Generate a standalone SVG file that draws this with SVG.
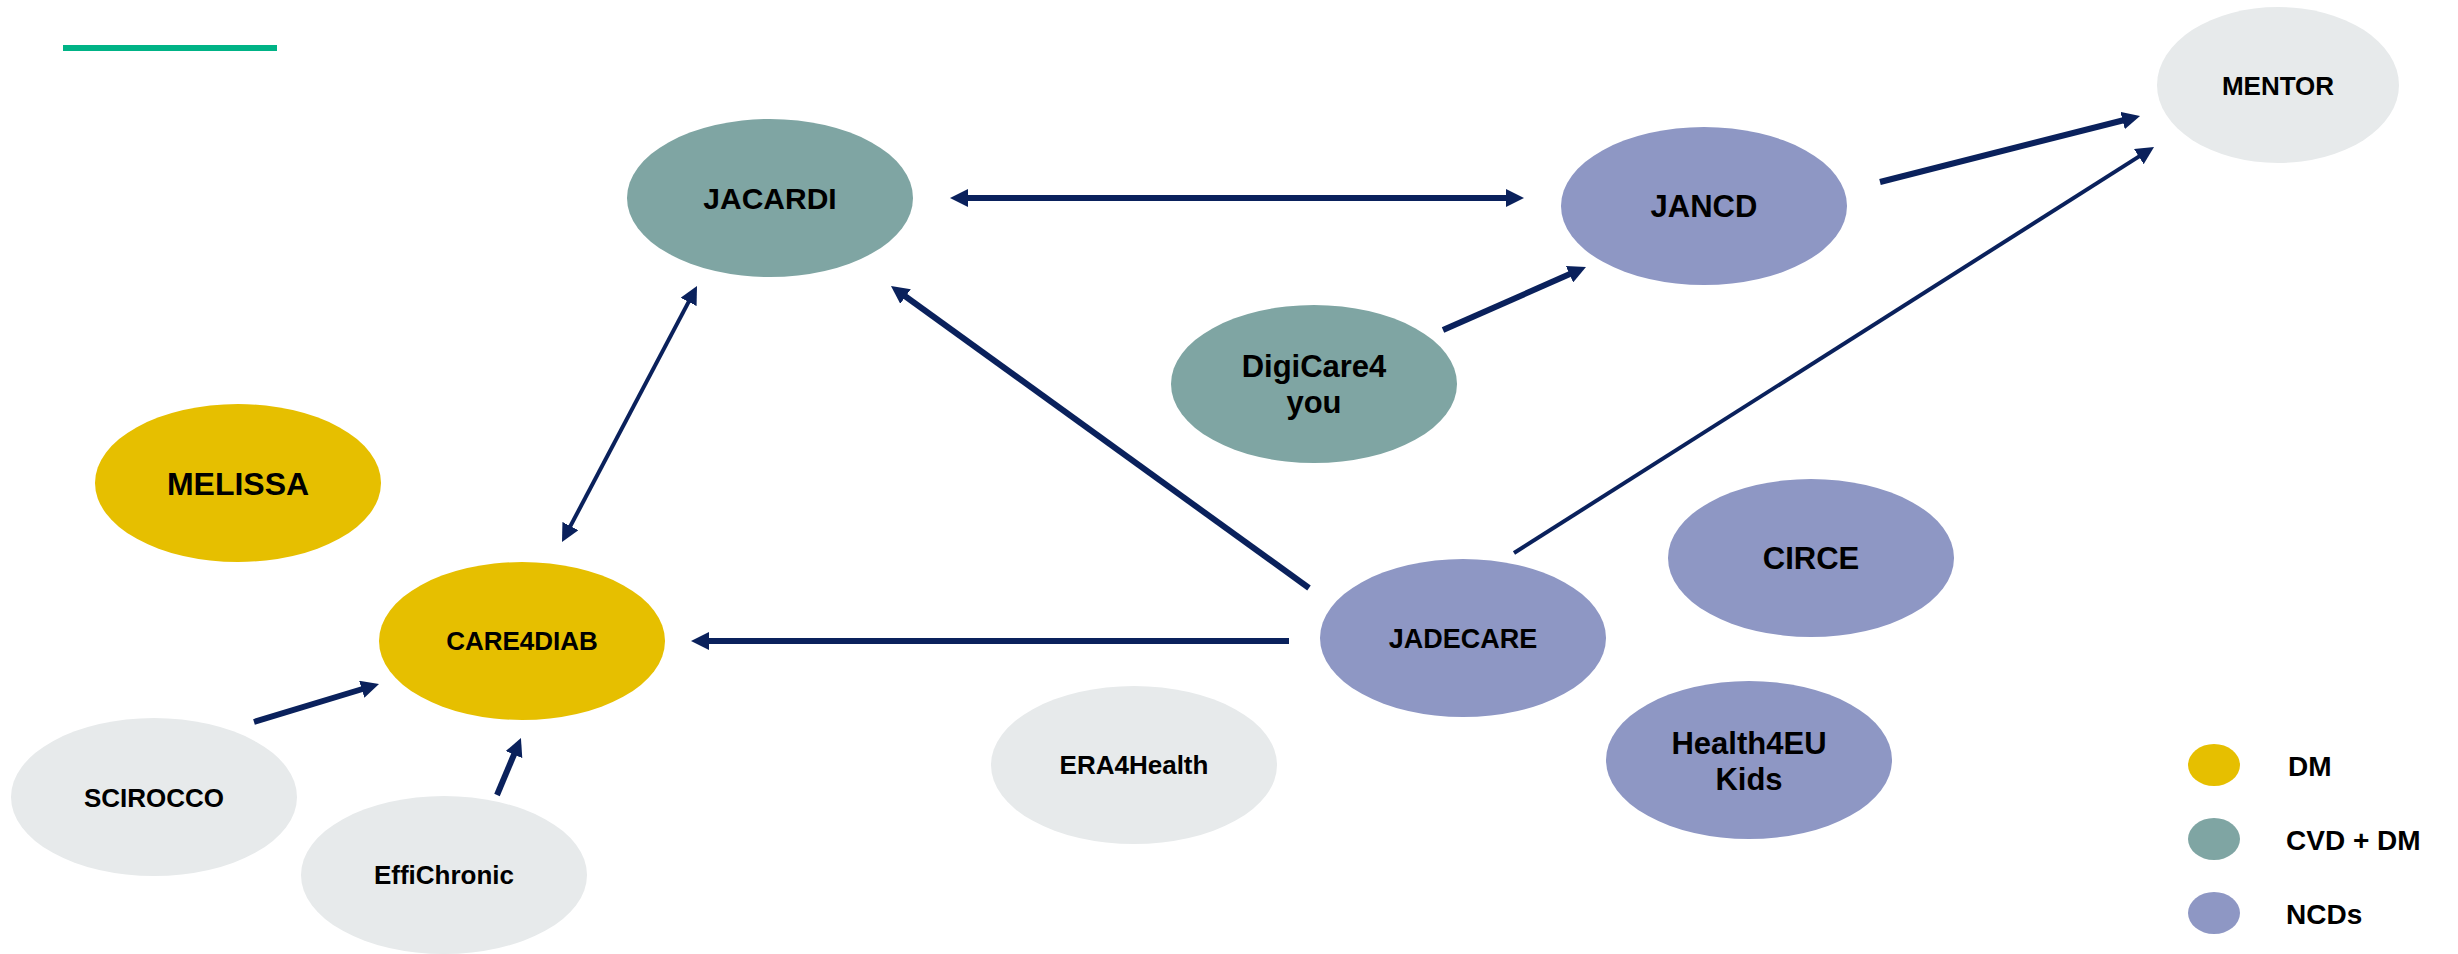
<svg xmlns="http://www.w3.org/2000/svg" width="2458" height="954" viewBox="0 0 2458 954">
<style>
.lbl{font-family:"Liberation Sans",Arial,sans-serif;font-weight:bold;fill:#000;text-anchor:middle}
.dm{fill:#e6bf00}.cvd{fill:#7fa5a3}.ncd{fill:#8e97c4}.oth{fill:#e7eaeb}
.con{stroke:#0a215c;fill:none}
.thick{stroke-width:6}.thin{stroke-width:4}
.leg{font-family:"Liberation Sans",Arial,sans-serif;font-weight:bold;fill:#000;font-size:28px}
</style>
<defs>
<marker id="ah" viewBox="0 0 18 18" refX="6" refY="9" markerWidth="18" markerHeight="18" markerUnits="userSpaceOnUse" orient="auto-start-reverse">
<path d="M0,0 L18,9 L0,18 z" fill="#0a215c"/>
</marker>
</defs>
<rect width="2458" height="954" fill="#fff"/>
<rect id="accent" x="63" y="45" width="214" height="6" fill="#00b386"/>

<g id="connectors">
<line class="con thick" x1="962" y1="198" x2="1512" y2="198" marker-start="url(#ah)" marker-end="url(#ah)"/>
<line class="con thick" x1="1880" y1="182" x2="2128.4" y2="119" marker-end="url(#ah)"/>
<line class="con thin" x1="1514" y1="553" x2="2143.9" y2="153.4" marker-end="url(#ah)"/>
<line class="con thick" x1="1443" y1="330" x2="1575" y2="271.8" marker-end="url(#ah)"/>
<line class="con thick" x1="1309" y1="588" x2="900.7" y2="293" marker-end="url(#ah)"/>
<line class="con thin" x1="691.4" y1="296.6" x2="567.6" y2="531.4" marker-start="url(#ah)" marker-end="url(#ah)"/>
<line class="con thick" x1="1289" y1="641" x2="703" y2="641" marker-end="url(#ah)"/>
<line class="con thick" x1="254" y1="722" x2="367.5" y2="687.5" marker-end="url(#ah)"/>
<line class="con thick" x1="497" y1="795" x2="516.3" y2="749.1" marker-end="url(#ah)"/>
</g>

<g id="MENTOR"><ellipse class="oth" cx="2278" cy="85" rx="121" ry="78"/><text class="lbl" x="2278" y="95" font-size="26">MENTOR</text></g>
<g id="JACARDI"><ellipse class="cvd" cx="770" cy="198" rx="143" ry="79"/><text class="lbl" x="770" y="209" font-size="30">JACARDI</text></g>
<g id="JANCD"><ellipse class="ncd" cx="1704" cy="206" rx="143" ry="79"/><text class="lbl" x="1704" y="217" font-size="31">JANCD</text></g>
<g id="DigiCare4you"><ellipse class="cvd" cx="1314" cy="384" rx="143" ry="79"/><text class="lbl" x="1314" y="377" font-size="31">DigiCare4</text><text class="lbl" x="1314" y="413" font-size="31">you</text></g>
<g id="MELISSA"><ellipse class="dm" cx="238" cy="483" rx="143" ry="79"/><text class="lbl" x="238" y="495" font-size="32">MELISSA</text></g>
<g id="CIRCE"><ellipse class="ncd" cx="1811" cy="558" rx="143" ry="79"/><text class="lbl" x="1811" y="569" font-size="31">CIRCE</text></g>
<g id="CARE4DIAB"><ellipse class="dm" cx="522" cy="641" rx="143" ry="79"/><text class="lbl" x="522" y="650" font-size="26">CARE4DIAB</text></g>
<g id="JADECARE"><ellipse class="ncd" cx="1463" cy="638" rx="143" ry="79"/><text class="lbl" x="1463" y="648" font-size="27">JADECARE</text></g>
<g id="ERA4Health"><ellipse class="oth" cx="1134" cy="765" rx="143" ry="79"/><text class="lbl" x="1134" y="774" font-size="26">ERA4Health</text></g>
<g id="Health4EUKids"><ellipse class="ncd" cx="1749" cy="760" rx="143" ry="79"/><text class="lbl" x="1749" y="754" font-size="31">Health4EU</text><text class="lbl" x="1749" y="790" font-size="31">Kids</text></g>
<g id="SCIROCCO"><ellipse class="oth" cx="154" cy="797" rx="143" ry="79"/><text class="lbl" x="154" y="807" font-size="26">SCIROCCO</text></g>
<g id="EffiChronic"><ellipse class="oth" cx="444" cy="875" rx="143" ry="79"/><text class="lbl" x="444" y="884" font-size="26">EffiChronic</text></g>

<g id="legend">
<ellipse class="dm" cx="2214" cy="765" rx="26" ry="21"/><text class="leg" x="2288" y="776">DM</text>
<ellipse class="cvd" cx="2214" cy="839" rx="26" ry="21"/><text class="leg" x="2286" y="850">CVD + DM</text>
<ellipse class="ncd" cx="2214" cy="913" rx="26" ry="21"/><text class="leg" x="2286" y="924">NCDs</text>
</g>
</svg>
